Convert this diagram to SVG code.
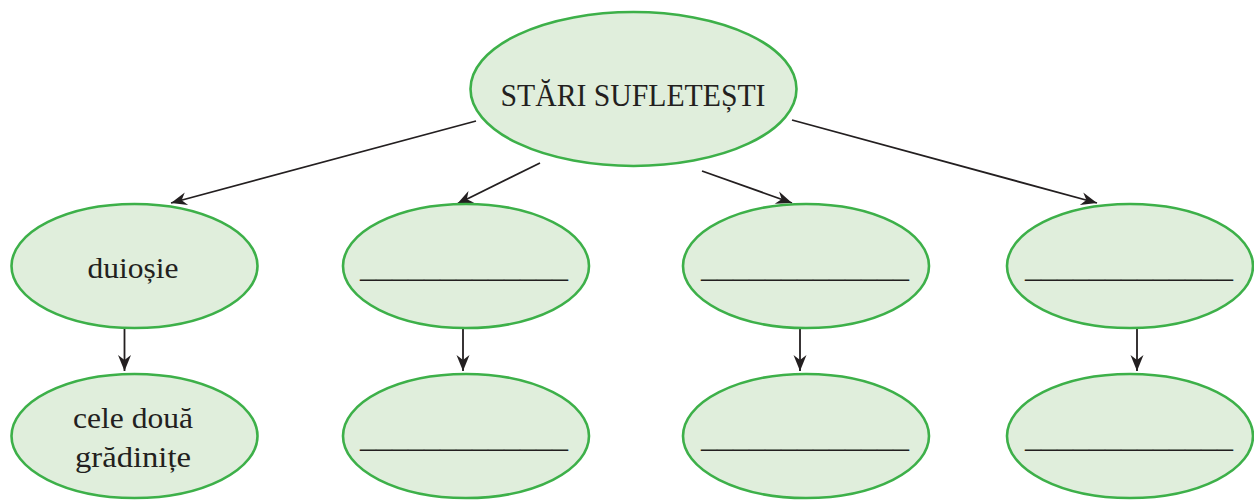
<svg xmlns="http://www.w3.org/2000/svg" width="1254" height="500" viewBox="0 0 1254 500">
<defs>
<style>
.node ellipse{fill:#e0eedc;stroke:#3db049;stroke-width:2.6}
.t{font-family:"Liberation Serif","Times New Roman",serif;fill:#231f20;text-anchor:middle}
.lbl{font-size:30px}
.blank{font-size:32px}
.conn line{stroke:#231f20;stroke-width:1.8;fill:none;marker-end:url(#ah)}
</style>
<marker id="ah" markerUnits="userSpaceOnUse" markerWidth="20" markerHeight="16" viewBox="-16 -8 18 16" refX="0" refY="0" orient="auto">
<path d="M0,0 L-16,-6.5 L-11,0 L-16,6.5 Z" fill="#231f20"/>
</marker>
</defs>
<rect width="1254" height="500" fill="#ffffff"/>
<g class="conn">
<line x1="476" y1="121" x2="171" y2="203"/>
<line x1="540" y1="163" x2="457" y2="204"/>
<line x1="702" y1="171" x2="792" y2="203"/>
<line x1="792" y1="120" x2="1097" y2="203"/>
<line x1="124.5" y1="328" x2="124.5" y2="371"/>
<line x1="463" y1="328" x2="463" y2="371"/>
<line x1="800" y1="328" x2="800" y2="371"/>
<line x1="1137" y1="328" x2="1137" y2="371"/>
</g>
<g id="root" class="node">
<ellipse cx="633.5" cy="89" rx="163" ry="77"/>
<text class="t" font-family="Liberation Serif, serif" x="633" y="106" font-size="31" textLength="265" lengthAdjust="spacingAndGlyphs">STĂRI SUFLETEȘTI</text>
</g>
<g id="n1" class="node">
<ellipse cx="134.5" cy="266" rx="123" ry="62"/>
<text class="t lbl" font-family="Liberation Serif, serif" x="133" y="278" textLength="91" lengthAdjust="spacingAndGlyphs">duioșie</text>
</g>
<g id="n1b" class="node">
<ellipse cx="134.5" cy="436" rx="123" ry="62"/>
<text class="t lbl" font-family="Liberation Serif, serif" x="133" y="428" textLength="120" lengthAdjust="spacingAndGlyphs">cele două</text>
<text class="t lbl" font-family="Liberation Serif, serif" x="133" y="467" textLength="116" lengthAdjust="spacingAndGlyphs">grădinițe</text>
</g>
<g id="n2" class="node">
<ellipse cx="466" cy="266" rx="123" ry="62"/>
<text class="t blank" font-family="Liberation Serif, serif" x="464" y="277" textLength="208" lengthAdjust="spacingAndGlyphs">_____________</text>
</g>
<g id="n2b" class="node">
<ellipse cx="466" cy="436" rx="123" ry="62"/>
<text class="t blank" font-family="Liberation Serif, serif" x="464" y="447" textLength="208" lengthAdjust="spacingAndGlyphs">_____________</text>
</g>
<g id="n3" class="node">
<ellipse cx="806" cy="266" rx="123" ry="62"/>
<text class="t blank" font-family="Liberation Serif, serif" x="805" y="277" textLength="208" lengthAdjust="spacingAndGlyphs">_____________</text>
</g>
<g id="n3b" class="node">
<ellipse cx="806" cy="436" rx="123" ry="62"/>
<text class="t blank" font-family="Liberation Serif, serif" x="805" y="447" textLength="208" lengthAdjust="spacingAndGlyphs">_____________</text>
</g>
<g id="n4" class="node">
<ellipse cx="1130" cy="266" rx="123" ry="62"/>
<text class="t blank" font-family="Liberation Serif, serif" x="1129" y="277" textLength="208" lengthAdjust="spacingAndGlyphs">_____________</text>
</g>
<g id="n4b" class="node">
<ellipse cx="1130" cy="436" rx="123" ry="62"/>
<text class="t blank" font-family="Liberation Serif, serif" x="1129" y="447" textLength="208" lengthAdjust="spacingAndGlyphs">_____________</text>
</g>
</svg>
